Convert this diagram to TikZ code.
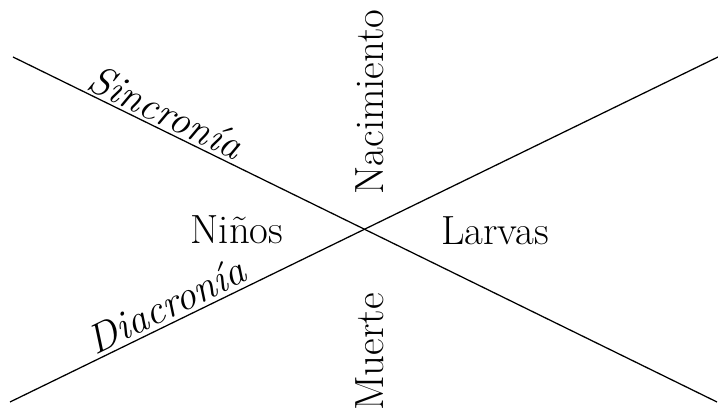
\documentclass[tikz,border=0pt]{standalone}
\begin{document}
\begin{tikzpicture}[x=0.025cm,y=0.025cm,lbl/.style={font=\fontsize{29}{30}\selectfont,inner sep=0pt}]
		\useasboundingbox (0,0) rectangle (718,412);
		\coordinate (sa) at (13,355);
		\coordinate (sb) at (717,10);
		\coordinate (da) at (10,10);
		\coordinate (db) at (718,355);
		\draw[line width=0.9pt] (sa) -- (sb);
		\draw[line width=0.9pt] (da) -- (db);
		\node[lbl,rotate=-26] (sinc) at (166,300) {\itshape Sincronía};
		\node[lbl,rotate=26] (diac) at (166,107) {\itshape Diacronía};
		\node[lbl,rotate=90] (nac) at (370,310) {Nacimiento};
		\node[lbl,rotate=90] (mue) at (370,60) {Muerte};
		\node[lbl] (nin) at (237,182) {Niños};
		\node[lbl] (lar) at (495,181) {Larvas};
	\end{tikzpicture}
\end{document}
